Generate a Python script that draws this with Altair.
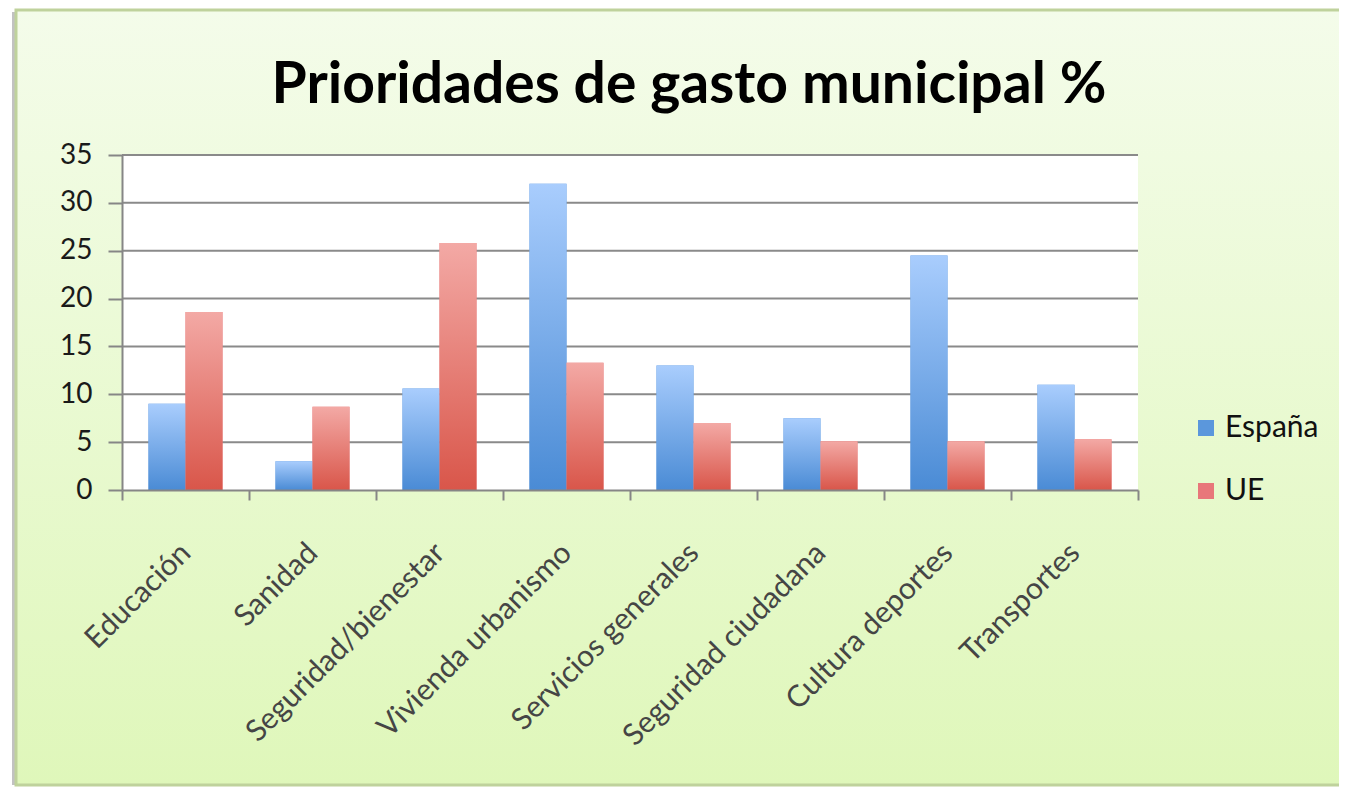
import altair as alt
import pandas as pd

titulo = "Prioridades de gasto municipal %"
categorias = ["Educación", "Sanidad", "Seguridad/bienestar", "Vivienda  urbanismo",
              "Servicios generales", "Seguridad ciudadana", "Cultura deportes", "Transportes"]
series = ["España", "UE"]
espana = [9.0, 3.0, 10.6, 32.0, 13.0, 7.5, 24.5, 11.0]
ue = [18.6, 8.7, 25.8, 13.3, 7.0, 5.1, 5.1, 5.3]
y_ticks = [0, 5, 10, 15, 20, 25, 30, 35]
grid_vals = [5, 10, 15, 20, 25, 30, 35]

rows = []
for c, e, u in zip(categorias, espana, ue):
    rows.append({"categoria": c, "serie": "España", "valor": e})
    rows.append({"categoria": c, "serie": "UE", "valor": u})
df = pd.DataFrame(rows)
grid_df = pd.DataFrame({"v": grid_vals})

W, H = 1016, 335
FONT = "Lato"

def grad(top, bottom):
    return alt.LinearGradient(
        gradient="linear", x1=0, y1=0, x2=0, y2=1,
        stops=[alt.GradientStop(offset=0, color=top), alt.GradientStop(offset=1, color=bottom)],
    )

blue_grad = grad("#a9cdfd", "#4a8bd5")
red_grad = grad("#f3a9a5", "#d9564a")
bg_grad = grad("#f4fcea", "#dff7ba")

y_scale = alt.Scale(domain=[0, 35], nice=False, zero=True)
y_axis = alt.Axis(values=y_ticks, grid=False, tickSize=14, tickColor="#868686", tickWidth=2,
                  domainColor="#868686", domainWidth=2, labelFontSize=28, labelFont=FONT,
                  labelColor="#1a1a1a", labelPadding=16, title=None, zindex=1)
x_axis = alt.Axis(tickBand="extent", tickSize=10, tickColor="#868686", tickWidth=2,
                  domainColor="#868686", domainWidth=2, labelAngle=-45, labelAlign="right",
                  labelBaseline="middle", labelPadding=48, labelFontSize=30, labelFont=FONT,
                  labelColor="#454545", title=None, zindex=1, labelLimit=500)
x_scale = alt.Scale(paddingInner=0, paddingOuter=0)
xo_scale = alt.Scale(domain=series, paddingInner=0, paddingOuter=0.716)

one = alt.Data(values=[{"t": titulo}])

shadow = alt.Chart(one).mark_rect(fill="#9a9a9a", opacity=0.6).encode(
    x=alt.value(-110), x2=alt.value(-104), y=alt.value(-143), y2=alt.value(630))
bg = alt.Chart(one).mark_rect(fill=bg_grad, stroke="#bfd29c", strokeWidth=3).encode(
    x=alt.value(-106), x2=alt.value(1250), y=alt.value(-145), y2=alt.value(630))
plot_bg = alt.Chart(one).mark_rect(fill="white").encode(
    x=alt.value(0), x2=alt.value(W), y=alt.value(0), y2=alt.value(H))
title_txt = alt.Chart(one).mark_text(font=FONT, fontSize=57, fontWeight="bold", color="#000000",
                                     align="center", baseline="alphabetic").encode(
    text="t:N", x=alt.value(567), y=alt.value(-52))

grid = alt.Chart(grid_df).mark_rule(color="#8a8a8a", strokeWidth=2).encode(
    y=alt.Y("v:Q", scale=y_scale, axis=y_axis),
    x=alt.value(0), x2=alt.value(W))

base = alt.Chart(df).encode(
    x=alt.X("categoria:N", sort=categorias, scale=x_scale, axis=x_axis),
    xOffset=alt.XOffset("serie:N", scale=xo_scale),
    y=alt.Y("valor:Q", scale=y_scale, axis=y_axis),
)

flat = base.mark_bar().encode(
    color=alt.Color("serie:N", scale=alt.Scale(domain=series, range=["#5b97dc", "#e8777a"]),
                    legend=alt.Legend(orient="none", legendX=1069, legendY=258, title=None,
                                      symbolType="square", symbolSize=256, symbolStrokeWidth=0,
                                      labelFontSize=30, labelFont=FONT, labelColor="#111111",
                                      rowPadding=33, labelOffset=4))
)
es_bars = base.transform_filter(alt.datum.serie == "España").mark_bar(fill=blue_grad)
ue_bars = base.transform_filter(alt.datum.serie == "UE").mark_bar(fill=red_grad)

chart = alt.layer(shadow, bg, plot_bg, title_txt, grid, flat, es_bars, ue_bars).properties(
    width=W, height=H,
    autosize=alt.AutoSizeParams(type="none"),
    padding={"left": 114, "top": 147, "right": 201, "bottom": 298},
).configure_view(stroke=None)

chart.save("out.html", embed_options={"renderer": "svg", "actions": False})
